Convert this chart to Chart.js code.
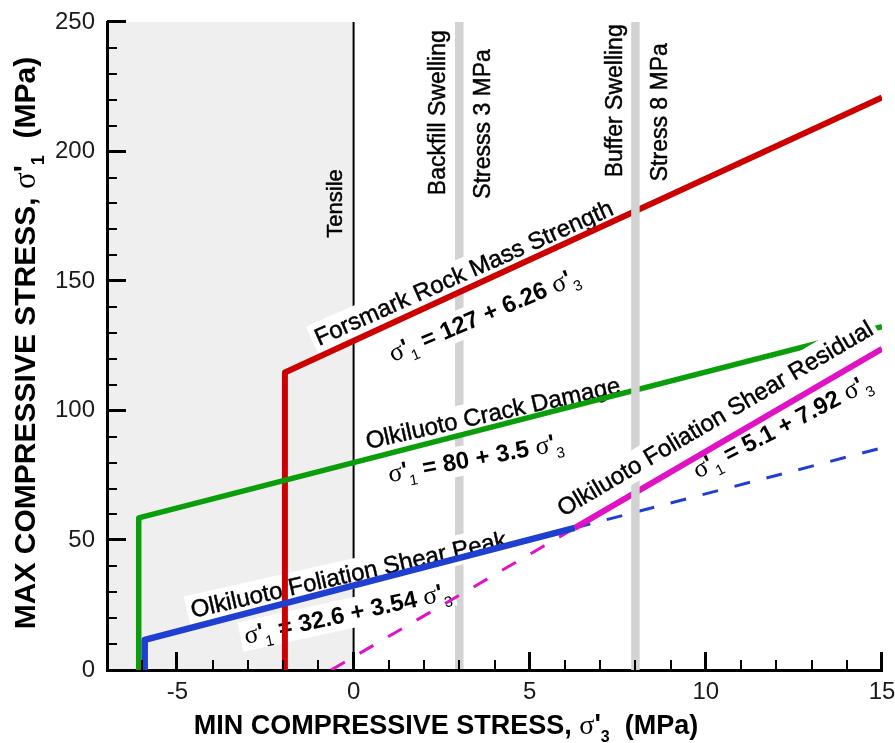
<!DOCTYPE html>
<html>
<head>
<meta charset="utf-8">
<title>Rock strength envelopes</title>
<script src="https://cdn.jsdelivr.net/npm/chart.js@4.4.1/dist/chart.umd.min.js"></script>
<style>
  html, body { margin: 0; padding: 0; background: #fff; }
  #wrap { width: 895px; height: 743px; position: relative; }
</style>
</head>
<body>
<div id="wrap"><canvas id="envelopes"></canvas></div>
<script>
// axis ranges and ticks (MPa)
const xRange = [-7, 15];
const yRange = [0, 250];
const xMajorTicks = [-5, 0, 5, 10, 15];
const yMajorTicks = [0, 50, 100, 150, 200, 250];
const xMinorStep = 1;
const yMinorStep = 10;

// strength envelopes: sigma'3 (x) vs sigma'1 (y)
const forsmarkX = [-1.95, -1.95, 15];
const forsmarkY = [0, 114.8, 220.9];
const crackX = [-6.1, -6.1, 15];
const crackY = [0, 58.7, 132.5];
const peakX = [-5.93, -5.93, 6.28];
const peakY = [0, 11.6, 54.8];
const peakExtX = [6.28, 15];
const peakExtY = [54.8, 85.7];
const residualX = [6.28, 15];
const residualY = [54.8, 123.9];
const residualExtX = [-0.64, 6.28];
const residualExtY = [0, 54.8];

// tensile cut-off and swelling pressures
const tensileLimit = 0;
const backfillSwelling = 3;
const bufferSwelling = 8;

const SANS = "'Liberation Sans', Arial, sans-serif";
const SERIF = "'Liberation Serif', 'Times New Roman', serif";

const RED = '#cc0000', GREEN = '#0a9e0a', BLUE = '#1f3fd0', MAGENTA = '#e112c6';

function pts(xs, ys) { return xs.map((x, i) => ({ x: x, y: ys[i] })); }

function title(t) { return [{ t: t, font: `24px ${SANS}`, heavy: true }]; }
function formula(a, b) {
    return [
        { t: '\u03c3', font: `26px ${SERIF}` },
        { t: "'", font: `bold 24px ${SANS}`, dy: -1 },
        { t: '1', font: `15px ${SANS}`, dy: 7 },
        { t: ` = ${a} + ${b} `, font: `bold 24px ${SANS}` },
        { t: '\u03c3', font: `26px ${SERIF}` },
        { t: "'", font: `bold 24px ${SANS}`, dy: -1 },
        { t: '3', font: `15px ${SANS}`, dy: 7 }
    ];
}

// sloped annotations, anchored in data units
const notes = [
    { runs: title('Forsmark Rock Mass Strength'), x: 3.12, y: 153.5, angle: 24 },
    { runs: formula('127', '6.26'), x: 3.69, y: 137.3, angle: 23 },
    { runs: title('Olkiluoto Crack Damage'), x: 3.95, y: 99.4, angle: 12.5 },
    { runs: formula('80', '3.5'), x: 3.46, y: 82, angle: 10.5 },
    { runs: title('Olkiluoto Foliation Shear Peak'), x: -0.15, y: 37.1, angle: 12.7 },
    { runs: formula('32.6', '3.54'), x: -0.18, y: 22, angle: 12.3 },
    { runs: title('Olkiluoto Foliation Shear Residual'), x: 10.25, y: 97.3, angle: 30.5, front: true },
    { runs: formula('5.1', '7.92'), x: 12.15, y: 94.3, angle: 27.5 }
];

// vertical labels next to the reference lines
const vLabels = [
    { t: 'Tensile', x: -0.55, y: 180, size: 22 },
    { t: 'Backfill Swelling', x: 2.35, y: 215, size: 23 },
    { t: 'Stresss 3 MPa', x: 3.63, y: 210.7, size: 23 },
    { t: 'Buffer Swelling', x: 7.39, y: 219.6, size: 23 },
    { t: 'Stress 8 MPa', x: 8.66, y: 215.2, size: 23 }
];

function drawRuns(ctx, runs, cx, cy, angle, boxed, size) {
    ctx.save();
    ctx.translate(cx, cy);
    ctx.rotate(-angle * Math.PI / 180);
    let w = 0;
    const widths = runs.map(r => { ctx.font = r.font; const m = ctx.measureText(r.t).width; w += m; return m; });
    const base = size * 0.36;
    if (boxed) {
        ctx.fillStyle = '#fff';
        ctx.fillRect(-w / 2 - 4, base - size * 0.95, w + 8, size * 1.25);
    }
    ctx.fillStyle = '#000';
    ctx.strokeStyle = '#000';
    ctx.lineWidth = 0.45;
    ctx.textAlign = 'left';
    ctx.textBaseline = 'alphabetic';
    let x = -w / 2;
    runs.forEach((r, i) => {
        ctx.font = r.font;
        ctx.fillText(r.t, x, base + (r.dy || 0));
        if (r.heavy) ctx.strokeText(r.t, x, base + (r.dy || 0));
        x += widths[i];
    });
    ctx.restore();
}

function band(chart, value, color) {
    const { ctx, chartArea, scales } = chart;
    const x0 = scales.x.getPixelForValue(value - 0.12);
    const x1 = scales.x.getPixelForValue(value + 0.12);
    ctx.save();
    ctx.fillStyle = color;
    ctx.fillRect(x0, chartArea.top, x1 - x0, chartArea.bottom - chartArea.top);
    ctx.restore();
}

// inward tick marks, snapped to whole pixels
function drawTicks(chart) {
    const ctx = chart.ctx;
    const area = chart.chartArea;
    const sx = chart.scales.x, sy = chart.scales.y;
    ctx.save();
    ctx.fillStyle = '#000';
    for (let v = xRange[0] + xMinorStep; v <= xRange[1]; v += xMinorStep) {
        const major = xMajorTicks.indexOf(v) >= 0;
        const px = Math.round(sx.getPixelForValue(v));
        const len = major ? 18 : 10;
        ctx.fillRect(px - (major ? 2 : 1), area.bottom - len, major ? 3 : 2, len);
    }
    for (let v = yRange[0] + yMinorStep; v <= yRange[1]; v += yMinorStep) {
        const major = yMajorTicks.indexOf(v) >= 0;
        const py = Math.round(sy.getPixelForValue(v));
        const len = major ? 19 : 10;
        ctx.fillRect(area.left, py - (major ? 2 : 1), len, major ? 3 : 2);
    }
    ctx.restore();
}

const backdrop = {
    id: 'backdrop',
    beforeDraw(chart) {
        const { ctx, chartArea, scales } = chart;
        const xt = scales.x.getPixelForValue(tensileLimit);
        ctx.save();
        ctx.fillStyle = '#efefef';
        ctx.fillRect(chartArea.left, chartArea.top, xt - chartArea.left, chartArea.bottom - chartArea.top);
        ctx.restore();
        band(chart, backfillSwelling, '#d2d2d2');
        ctx.save();
        ctx.strokeStyle = '#000';
        ctx.lineWidth = 2;
        ctx.beginPath();
        ctx.moveTo(xt, chartArea.top);
        ctx.lineTo(xt, chartArea.bottom);
        ctx.stroke();
        ctx.restore();
    },
    beforeDatasetsDraw(chart) {
        const { ctx, scales } = chart;
        vLabels.forEach(l => drawRuns(ctx, [{ t: l.t, font: `${l.size}px ${SANS}`, heavy: true }],
            scales.x.getPixelForValue(l.x), scales.y.getPixelForValue(l.y), 90, false, l.size));
        notes.filter(n => !n.front).forEach(n => drawRuns(ctx, n.runs,
            scales.x.getPixelForValue(n.x), scales.y.getPixelForValue(n.y), n.angle, true, 24));
    },
    afterDraw(chart) {
        const { ctx, chartArea, scales } = chart;
        // the buffer band and the residual label sit on top of the envelopes
        band(chart, bufferSwelling, '#d2d2d2');
        notes.filter(n => n.front).forEach(n => drawRuns(ctx, n.runs,
            scales.x.getPixelForValue(n.x), scales.y.getPixelForValue(n.y), n.angle, true, 24));
        drawTicks(chart);
        drawRuns(ctx, [
            { t: 'MIN COMPRESSIVE STRESS, ', font: `bold 27px ${SANS}` },
            { t: '\u03c3', font: `28px ${SERIF}` },
            { t: "'", font: `bold 27px ${SANS}`, dy: -1 },
            { t: '3', font: `bold 16px ${SANS}`, dy: 8 },
            { t: '  (MPa)', font: `bold 27px ${SANS}` }
        ], chartArea.left + 339, 724, 0, false, 27);
        drawRuns(ctx, [
            { t: 'MAX COMPRESSIVE STRESS, ', font: `bold 30px ${SANS}` },
            { t: '\u03c3', font: `31px ${SERIF}` },
            { t: "'", font: `bold 30px ${SANS}`, dy: -1 },
            { t: '1', font: `bold 18px ${SANS}`, dy: 9 },
            { t: '  (MPa)', font: `bold 30px ${SANS}` }
        ], 24, (chartArea.top + chartArea.bottom) / 2 - 3, 90, false, 30);
    }
};

function line(data, color, width, dash) {
    return {
        data: data, showLine: true, pointRadius: 0, borderColor: color, backgroundColor: color,
        borderWidth: width, borderDash: dash || [], borderJoinStyle: 'round', fill: false, tension: 0
    };
}

const tickFont = { family: SANS, size: 24 };

// first dataset ends up on top
new Chart(document.getElementById('envelopes'), {
    type: 'scatter',
    data: {
        datasets: [
            line(pts(peakX, peakY), BLUE, 6.5),
            line(pts(residualX, residualY), MAGENTA, 6),
            line(pts(crackX, crackY), GREEN, 5.5),
            line(pts(forsmarkX, forsmarkY), RED, 6),
            line(pts(peakExtX, peakExtY), BLUE, 3, [16, 17]),
            line(pts(residualExtX, residualExtY), MAGENTA, 3, [16, 17])
        ]
    },
    options: {
        responsive: true, maintainAspectRatio: false, animation: false,
        layout: { padding: { top: 22, right: 13, left: 0, bottom: 0 } },
        plugins: { legend: { display: false }, tooltip: { enabled: false } },
        scales: {
            x: {
                type: 'linear', min: xRange[0], max: xRange[1],
                afterBuildTicks: s => { s.ticks = xMajorTicks.map(v => ({ value: v })); },
                afterFit: s => { s.height = 73; s.paddingLeft = 0; s.paddingRight = 0; },
                grid: { drawOnChartArea: false, drawTicks: false },
                border: { color: '#000', width: 3 },
                ticks: { font: tickFont, color: '#1a1a1a', padding: 8, maxRotation: 0 }
            },
            y: {
                type: 'linear', min: yRange[0], max: yRange[1],
                afterBuildTicks: s => { s.ticks = yMajorTicks.map(v => ({ value: v })); },
                afterFit: s => { s.width = 107; s.paddingTop = 0; s.paddingBottom = 0; },
                grid: { drawOnChartArea: false, drawTicks: false },
                border: { color: '#000', width: 3 },
                ticks: { font: tickFont, color: '#1a1a1a', padding: 12 }
            }
        }
    },
    plugins: [backdrop]
});
</script>
</body>
</html>
